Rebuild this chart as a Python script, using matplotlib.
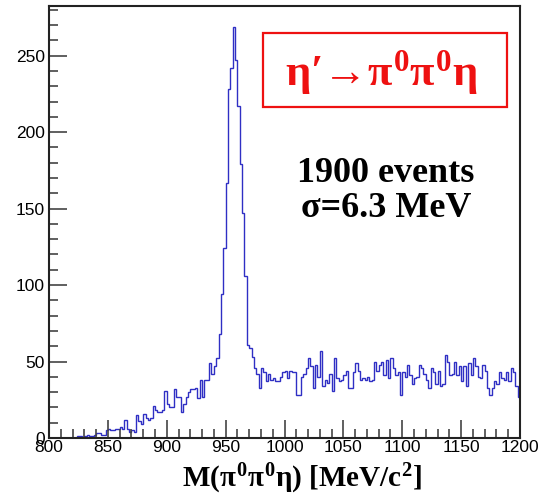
import matplotlib.pyplot as plt
import numpy as np
from matplotlib.patches import Rectangle
from matplotlib.ticker import MultipleLocator

plt.rcParams['mathtext.fontset'] = 'custom'
plt.rcParams['mathtext.rm'] = 'Liberation Serif:bold'
plt.rcParams['mathtext.it'] = 'Liberation Serif:bold'
plt.rcParams['mathtext.bf'] = 'Liberation Serif:bold'

# histogram M(pi0 pi0 eta), 2 MeV bins from 800 to 1200
m_lo = 800
m_hi = 1200
bin_w = 2

low_side = [0] * 12 + [
    1, 1, 0, 1, 2, 1, 1, 2, 3, 3, 2, 2, 5, 6, 5, 5, 6, 6, 7, 6,
    12, 6, 4, 5, 4, 15, 11, 9, 16, 13, 12, 13, 21, 18, 17, 17, 18, 31, 22, 20,
    20, 32, 27, 27, 17, 22, 27, 30, 32, 32, 33, 26, 38, 27, 38, 38, 49, 42,
]
peak = [47, 52, 68, 94, 124, 167, 228, 242, 269, 247, 217, 179, 147, 106, 61, 59,
        53, 46, 42, 33, 46, 43, 37, 42, 38, 39, 37, 37]
high_side = [
    40, 43, 44, 39, 44, 43, 43, 28, 28, 40, 42, 46, 52, 47, 33, 48, 40, 57, 34, 38,
    36, 42, 31, 52, 39, 37, 38, 41, 44, 33, 33, 43, 49, 44, 38, 39, 38, 40, 37, 38,
    50, 44, 48, 50, 41, 51, 39, 52, 46, 41, 43, 28, 43, 40, 48, 41, 35, 39, 40, 48,
    46, 42, 38, 33, 46, 43, 35, 44, 34, 35, 54, 50, 41, 42, 50, 41, 47, 37, 47, 34,
    49, 41, 52, 47, 40, 39, 48, 44, 33, 28, 33, 37, 35, 43, 39, 38, 43, 37, 46, 43,
    34, 27,
]
counts = np.array(low_side + peak + high_side)
edges = np.arange(m_lo, m_hi + bin_w, bin_w)

title_box = 'η′→$\\pi^0\\pi^0$η'
info = '1900 events\nσ=6.3 MeV'
xlab = 'M($\\pi^0\\pi^0$η) [MeV/c$^2$]'

serif = ['Liberation Serif', 'DejaVu Serif']

fig = plt.figure(figsize=(5.4, 4.98), dpi=100)
ax = fig.add_axes([49 / 540, 60 / 498, 471 / 540, 432 / 498])

ax.stairs(counts, edges, baseline=None, color='#2f2fc4', lw=1.0)

ax.set_xlim(m_lo, m_hi)
ax.set_ylim(0, 282.5)
ax.xaxis.set_major_locator(MultipleLocator(50))
ax.xaxis.set_minor_locator(MultipleLocator(10))
ax.yaxis.set_major_locator(MultipleLocator(50))
ax.yaxis.set_minor_locator(MultipleLocator(10))
ax.tick_params(which='both', direction='in', top=False, right=False,
               labelsize=12.5, width=1.2, color='#444444')
ax.tick_params(which='major', length=13)
ax.tick_params(which='minor', length=6.5)
ax.tick_params(axis='x', pad=1.5)
ax.tick_params(axis='y', pad=3)
for lab in ax.get_xticklabels() + ax.get_yticklabels():
    lab.set_family(['Liberation Sans', 'DejaVu Sans'])
for sp in ax.spines.values():
    sp.set_linewidth(1.5)
    sp.set_color('#222222')

ax.add_patch(Rectangle((0.454, 0.766), 0.518, 0.171, transform=ax.transAxes,
                       fill=False, edgecolor='#ee1111', lw=1.6))
ax.text(0.705, 0.845, title_box, transform=ax.transAxes, ha='center', va='center',
        color='#ee1111', fontsize=32, family=serif, weight='bold')
ax.text(0.7155, 0.572, info, transform=ax.transAxes, ha='center', va='center',
        family=serif, weight='bold', fontsize=26, linespacing=1.1)

fig.text(302 / 540, 2 / 498, xlab, ha='center', va='bottom', fontsize=21,
         family=serif, weight='bold')

fig.savefig('out.png', dpi=100)
